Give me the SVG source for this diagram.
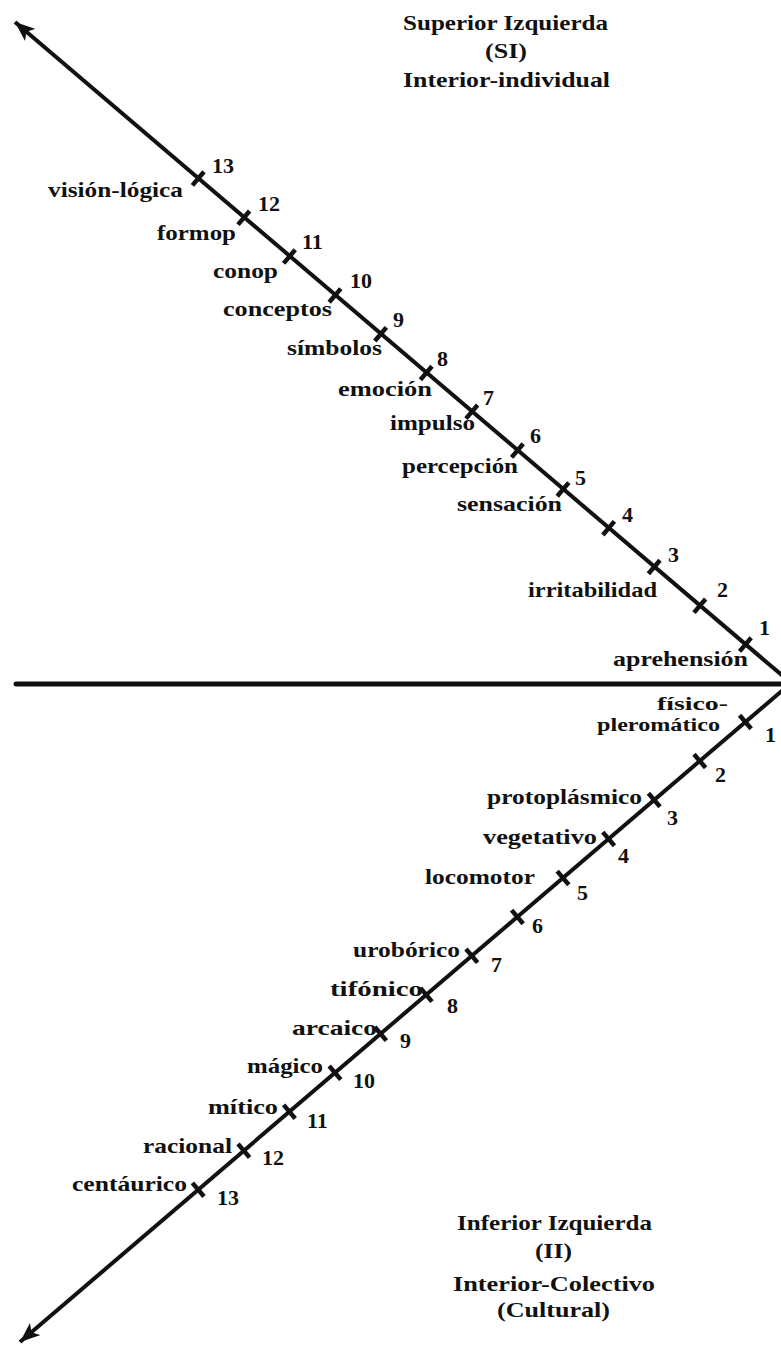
<svg xmlns="http://www.w3.org/2000/svg" width="781" height="1356" viewBox="0 0 781 1356">
<style>
text { font-family: "Liberation Serif", "Times New Roman", serif; font-weight: bold; font-size: 22px; fill: #111; }
.head { font-size: 22px; }
.num { font-size: 22px; }
.small { font-size: 19px; }
.axis { stroke: #111; stroke-width: 4; fill: none; }
.hz { stroke: #111; stroke-width: 5; fill: none; stroke-linecap: round; }
.tick { stroke: #111; stroke-width: 4.5; }
</style>
<defs>
<marker id="arrow" markerUnits="userSpaceOnUse" markerWidth="22" markerHeight="16" refX="20" refY="8" orient="auto">
<path d="M0,0 L20,8 L0,16 L5,8 z" fill="#111"/>
</marker>
</defs>
<rect width="781" height="1356" fill="#fff"/>

<g id="connectors">
<line class="hz" x1="16" y1="684" x2="781" y2="684"/>
<line class="axis" x1="791" y1="683" x2="15" y2="22" marker-end="url(#arrow)"/>
<line class="axis" x1="791" y1="683" x2="20" y2="1342" marker-end="url(#arrow)"/>
</g>

<g id="header-si">
<text class="head" x="403" y="30" textLength="205" lengthAdjust="spacingAndGlyphs">Superior Izquierda</text>
<text class="head" x="485" y="58" textLength="42" lengthAdjust="spacingAndGlyphs">(SI)</text>
<text class="head" x="403" y="87" textLength="207" lengthAdjust="spacingAndGlyphs">Interior-individual</text>
</g>

<g id="header-ii">
<text class="head" x="457" y="1230" textLength="195" lengthAdjust="spacingAndGlyphs">Inferior Izquierda</text>
<text class="head" x="535" y="1258" textLength="37" lengthAdjust="spacingAndGlyphs">(II)</text>
<text class="head" x="453" y="1291" textLength="202" lengthAdjust="spacingAndGlyphs">Interior-Colectivo</text>
<text class="head" x="497" y="1317" textLength="113" lengthAdjust="spacingAndGlyphs">(Cultural)</text>
</g>

<!-- Upper-left quadrant levels -->
<g id="si-13"><line class="tick" x1="192.4" y1="185.4" x2="204.0" y2="171.8"/><text class="num" x="212" y="173">13</text><text x="48" y="197" textLength="135" lengthAdjust="spacingAndGlyphs">visión-lógica</text></g>
<g id="si-12"><line class="tick" x1="238.0" y1="224.6" x2="249.6" y2="211.0"/><text class="num" x="258" y="211">12</text><text x="157" y="240" textLength="79" lengthAdjust="spacingAndGlyphs">formop</text></g>
<g id="si-11"><line class="tick" x1="283.6" y1="263.4" x2="295.2" y2="249.8"/><text class="num" x="302" y="249">11</text><text x="213" y="278" textLength="65" lengthAdjust="spacingAndGlyphs">conop</text></g>
<g id="si-10"><line class="tick" x1="329.2" y1="302.2" x2="340.8" y2="288.6"/><text class="num" x="350" y="288">10</text><text x="223" y="316" textLength="109" lengthAdjust="spacingAndGlyphs">conceptos</text></g>
<g id="si-9"><line class="tick" x1="374.8" y1="341.0" x2="386.4" y2="327.4"/><text class="num" x="393" y="327">9</text><text x="287" y="355" textLength="95" lengthAdjust="spacingAndGlyphs">símbolos</text></g>
<g id="si-8"><line class="tick" x1="420.4" y1="379.8" x2="432.0" y2="366.2"/><text class="num" x="437" y="366">8</text><text x="338" y="396" textLength="94" lengthAdjust="spacingAndGlyphs">emoción</text></g>
<g id="si-7"><line class="tick" x1="466.0" y1="418.6" x2="477.6" y2="405.0"/><text class="num" x="483" y="405">7</text><text x="390" y="430" textLength="85" lengthAdjust="spacingAndGlyphs">impulso</text></g>
<g id="si-6"><line class="tick" x1="511.6" y1="457.4" x2="523.2" y2="443.8"/><text class="num" x="530" y="443">6</text><text x="402" y="473" textLength="116" lengthAdjust="spacingAndGlyphs">percepción</text></g>
<g id="si-5"><line class="tick" x1="557.2" y1="496.2" x2="568.8" y2="482.6"/><text class="num" x="575" y="485">5</text><text x="457" y="511" textLength="105" lengthAdjust="spacingAndGlyphs">sensación</text></g>
<g id="si-4"><line class="tick" x1="602.8" y1="535.0" x2="614.4" y2="521.4"/><text class="num" x="622" y="522">4</text></g>
<g id="si-3"><line class="tick" x1="648.4" y1="573.8" x2="660.0" y2="560.2"/><text class="num" x="668" y="562">3</text></g>
<g id="si-2"><line class="tick" x1="694.0" y1="612.6" x2="705.6" y2="599.0"/><text class="num" x="717" y="597">2</text><text x="528" y="597" textLength="129" lengthAdjust="spacingAndGlyphs">irritabilidad</text></g>
<g id="si-1"><line class="tick" x1="739.6" y1="651.4" x2="751.2" y2="637.8"/><text class="num" x="759" y="635">1</text><text x="613" y="666" textLength="135" lengthAdjust="spacingAndGlyphs">aprehensión</text></g>

<!-- Lower-left quadrant levels -->
<g id="ii-1"><line class="tick" x1="739.6" y1="715.2" x2="751.2" y2="728.8"/><text class="num" x="765" y="742">1</text><text class="small" x="657" y="710" textLength="71" lengthAdjust="spacingAndGlyphs">físico-</text><text class="small" x="597" y="731" textLength="123" lengthAdjust="spacingAndGlyphs">pleromático</text></g>
<g id="ii-2"><line class="tick" x1="694.0" y1="754.2" x2="705.6" y2="767.8"/><text class="num" x="715" y="782">2</text></g>
<g id="ii-3"><line class="tick" x1="648.4" y1="793.2" x2="660.0" y2="806.8"/><text class="num" x="667" y="825">3</text><text x="487" y="804" textLength="155" lengthAdjust="spacingAndGlyphs">protoplásmico</text></g>
<g id="ii-4"><line class="tick" x1="602.8" y1="832.1" x2="614.4" y2="845.7"/><text class="num" x="618" y="863">4</text><text x="483" y="844" textLength="114" lengthAdjust="spacingAndGlyphs">vegetativo</text></g>
<g id="ii-5"><line class="tick" x1="557.2" y1="871.1" x2="568.8" y2="884.7"/><text class="num" x="577" y="900">5</text><text x="425" y="884" textLength="110" lengthAdjust="spacingAndGlyphs">locomotor</text></g>
<g id="ii-6"><line class="tick" x1="511.6" y1="910.1" x2="523.2" y2="923.7"/><text class="num" x="532" y="933">6</text></g>
<g id="ii-7"><line class="tick" x1="466.0" y1="949.0" x2="477.6" y2="962.6"/><text class="num" x="491" y="972">7</text><text x="353" y="957" textLength="107" lengthAdjust="spacingAndGlyphs">urobórico</text></g>
<g id="ii-8"><line class="tick" x1="420.4" y1="988.0" x2="432.0" y2="1001.6"/><text class="num" x="447" y="1013">8</text><text x="330" y="996" textLength="93" lengthAdjust="spacingAndGlyphs">tifónico</text></g>
<g id="ii-9"><line class="tick" x1="374.8" y1="1027.0" x2="386.4" y2="1040.6"/><text class="num" x="400" y="1048">9</text><text x="292" y="1035" textLength="85" lengthAdjust="spacingAndGlyphs">arcaico</text></g>
<g id="ii-10"><line class="tick" x1="329.2" y1="1066.0" x2="340.8" y2="1079.6"/><text class="num" x="353" y="1088">10</text><text x="247" y="1073" textLength="76" lengthAdjust="spacingAndGlyphs">mágico</text></g>
<g id="ii-11"><line class="tick" x1="283.6" y1="1104.9" x2="295.2" y2="1118.5"/><text class="num" x="307" y="1128">11</text><text x="208" y="1114" textLength="70" lengthAdjust="spacingAndGlyphs">mítico</text></g>
<g id="ii-12"><line class="tick" x1="238.0" y1="1143.9" x2="249.6" y2="1157.5"/><text class="num" x="262" y="1165">12</text><text x="143" y="1153" textLength="89" lengthAdjust="spacingAndGlyphs">racional</text></g>
<g id="ii-13"><line class="tick" x1="192.4" y1="1182.9" x2="204.0" y2="1196.5"/><text class="num" x="217" y="1205">13</text><text x="72" y="1191" textLength="115" lengthAdjust="spacingAndGlyphs">centáurico</text></g>
</svg>
